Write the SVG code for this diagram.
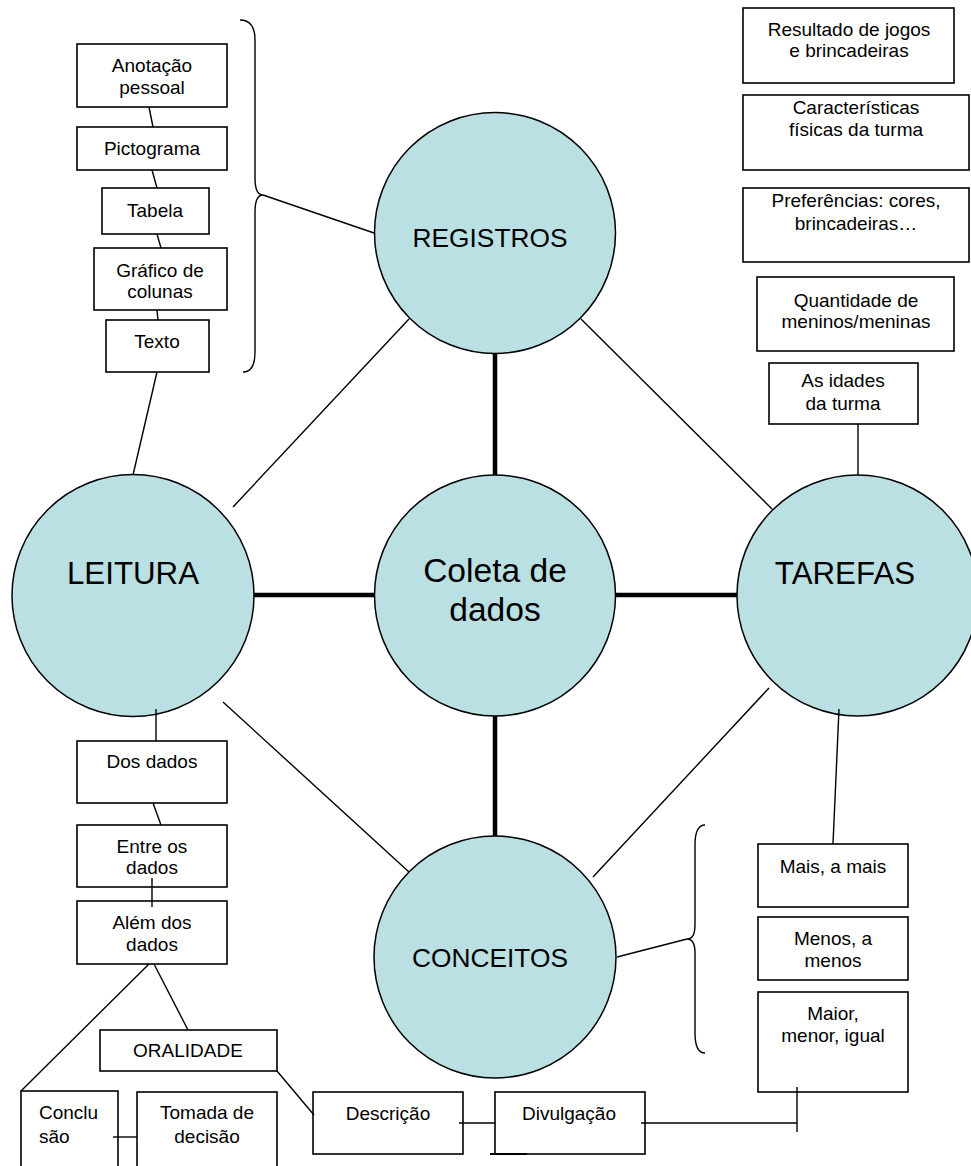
<svg xmlns="http://www.w3.org/2000/svg" width="971" height="1166" viewBox="0 0 971 1166">
<style>
  .bg{fill:#ffffff}
  .circ{fill:#bbe0e3;stroke:#000;stroke-width:1.5}
  .box{fill:#ffffff;stroke:#000;stroke-width:1.6}
  .ln{stroke:#000;stroke-width:1.4;fill:none}
  .thick{stroke:#000;stroke-width:4.5;fill:none}
  .t{font-family:"Liberation Sans",Arial,sans-serif;font-size:19px;fill:#000;text-anchor:middle}
  .tl{font-family:"Liberation Sans",Arial,sans-serif;font-size:19px;fill:#000}
  .big{font-family:"Liberation Sans",Arial,sans-serif;font-size:31.3px;fill:#000;text-anchor:middle}
  .mid{font-family:"Liberation Sans",Arial,sans-serif;font-size:26.3px;fill:#000;text-anchor:middle}
  .core{font-family:"Liberation Sans",Arial,sans-serif;font-size:33.6px;fill:#000;text-anchor:middle}
</style>
<rect class="bg" x="0" y="0" width="971" height="1166"/>

<g id="registros"><circle class="circ" cx="495" cy="233" r="120.5"/><text class="mid" x="490" y="247">REGISTROS</text></g>
<g id="leitura"><circle class="circ" cx="133" cy="595.5" r="121"/><text class="big" x="133" y="584">LEITURA</text></g>
<g id="coleta"><circle class="circ" cx="495" cy="595.5" r="120.5"/><text class="core" x="495" y="582">Coleta de</text><text class="core" x="495" y="621">dados</text></g>
<g id="tarefas"><circle class="circ" cx="857.5" cy="595.5" r="120.5"/><text class="big" x="845" y="584">TAREFAS</text></g>
<g id="conceitos"><circle class="circ" cx="495" cy="957" r="121"/><text class="mid" x="490" y="967">CONCEITOS</text></g>

<g id="anotacao"><rect class="box" x="77" y="44" width="150" height="63"/><text class="t" x="152" y="72">Anotação</text><text class="t" x="152" y="94">pessoal</text></g>
<g id="pictograma"><rect class="box" x="77" y="127" width="150" height="43"/><text class="t" x="152" y="155">Pictograma</text></g>
<g id="tabela"><rect class="box" x="102" y="188" width="107" height="46"/><text class="t" x="155" y="217">Tabela</text></g>
<g id="grafico"><rect class="box" x="94" y="248" width="133" height="62"/><text class="t" x="160" y="277">Gráfico de</text><text class="t" x="160" y="298">colunas</text></g>
<g id="texto"><rect class="box" x="106" y="320" width="103" height="52"/><text class="t" x="157" y="348">Texto</text></g>

<g id="resultado"><rect class="box" x="743" y="8" width="211" height="75"/><text class="t" x="849" y="36">Resultado de jogos</text><text class="t" x="849" y="57">e brincadeiras</text></g>
<g id="caracteristicas"><rect class="box" x="743" y="95" width="226" height="75"/><text class="t" x="856" y="114">Características</text><text class="t" x="856" y="136">físicas da turma</text></g>
<g id="preferencias"><rect class="box" x="743" y="188" width="226" height="74"/><text class="t" x="856" y="207">Preferências: cores,</text><text class="t" x="856" y="230">brincadeiras…</text></g>
<g id="quantidade"><rect class="box" x="757" y="277" width="197" height="74"/><text class="t" x="856" y="307">Quantidade de</text><text class="t" x="856" y="328">meninos/meninas</text></g>
<g id="idades"><rect class="box" x="769" y="363" width="149" height="61"/><text class="t" x="843" y="387">As idades</text><text class="t" x="843" y="410">da turma</text></g>

<g id="dosdados"><rect class="box" x="77" y="741" width="150" height="62"/><text class="t" x="152" y="768">Dos dados</text></g>
<g id="entre"><rect class="box" x="77" y="825" width="150" height="62"/><text class="t" x="152" y="853">Entre os</text><text class="t" x="152" y="874">dados</text></g>
<g id="alem"><rect class="box" x="77" y="901" width="150" height="63"/><text class="t" x="152" y="929">Além dos</text><text class="t" x="152" y="951">dados</text></g>
<g id="oralidade"><rect class="box" x="100" y="1030" width="177" height="41"/><text class="t" x="188" y="1057">ORALIDADE</text></g>
<g id="conclusao"><rect class="box" x="21" y="1091" width="97" height="100"/><text class="tl" x="39" y="1119">Conclu</text><text class="tl" x="39" y="1143">são</text></g>
<g id="tomada"><rect class="box" x="137" y="1092" width="140" height="100"/><text class="t" x="207" y="1119">Tomada de</text><text class="t" x="207" y="1143">decisão</text></g>
<g id="descricao"><rect class="box" x="313" y="1092" width="150" height="62"/><text class="t" x="388" y="1120">Descrição</text></g>
<g id="divulgacao"><rect class="box" x="495" y="1092" width="150" height="62"/><text class="t" x="569" y="1120">Divulgação</text></g>

<g id="mais"><rect class="box" x="758" y="844" width="150" height="63"/><text class="t" x="833" y="873">Mais, a mais</text></g>
<g id="menos"><rect class="box" x="758" y="917" width="150" height="63"/><text class="t" x="833" y="945">Menos, a</text><text class="t" x="833" y="967">menos</text></g>
<g id="maior"><rect class="box" x="758" y="992" width="150" height="100"/><text class="t" x="833" y="1020">Maior,</text><text class="t" x="833" y="1042">menor, igual</text></g>

<g id="connectors">
  <line class="thick" x1="495" y1="353" x2="495" y2="475"/>
  <line class="thick" x1="254" y1="595" x2="375" y2="595"/>
  <line class="thick" x1="615" y1="595" x2="737" y2="595"/>
  <line class="thick" x1="495" y1="716" x2="495" y2="836"/>
  <line class="ln" x1="233" y1="507" x2="409" y2="319"/>
  <line class="ln" x1="581" y1="319" x2="772" y2="509"/>
  <line class="ln" x1="223" y1="702" x2="409" y2="872"/>
  <line class="ln" x1="769" y1="688" x2="593" y2="877"/>
  <line class="ln" x1="149" y1="107" x2="153" y2="127"/>
  <line class="ln" x1="152" y1="170" x2="157" y2="188"/>
  <line class="ln" x1="157" y1="234" x2="161" y2="248"/>
  <line class="ln" x1="157" y1="310" x2="158" y2="320"/>
  <line class="ln" x1="157" y1="372" x2="133" y2="475"/>
  <path class="ln" d="M240,20 Q255,20 255,40 L255,178 Q255,195 263,195 Q255,195 255,212 L255,352 Q255,372 243,372"/>
  <line class="ln" x1="263" y1="195" x2="374" y2="233"/>
  <line class="ln" x1="858" y1="424" x2="858" y2="475"/>
  <line class="ln" x1="156" y1="709" x2="156" y2="741"/>
  <line class="ln" x1="153" y1="803" x2="161" y2="825"/>
  <line class="ln" x1="152" y1="878" x2="152" y2="907"/>
  <line class="ln" x1="149" y1="964" x2="21" y2="1091"/>
  <line class="ln" x1="154" y1="964" x2="188" y2="1030"/>
  <line class="ln" x1="277" y1="1071" x2="314" y2="1115"/>
  <line class="ln" x1="113" y1="1137" x2="137" y2="1137"/>
  <line class="ln" x1="459" y1="1123" x2="495" y2="1123"/>
  <line class="ln" x1="490" y1="1154" x2="527" y2="1154" style="stroke-width:2"/>
  <line class="ln" x1="641" y1="1123" x2="797" y2="1123"/>
  <line class="ln" x1="797" y1="1087" x2="797" y2="1132"/>
  <line class="ln" x1="839" y1="709" x2="833" y2="844"/>
  <path class="ln" d="M705,825 Q695,825 695,845 L695,925 Q695,939 687,939 Q695,939 695,953 L695,1033 Q695,1053 705,1053"/>
  <line class="ln" x1="687" y1="939" x2="617" y2="957"/>
</g>
</svg>
